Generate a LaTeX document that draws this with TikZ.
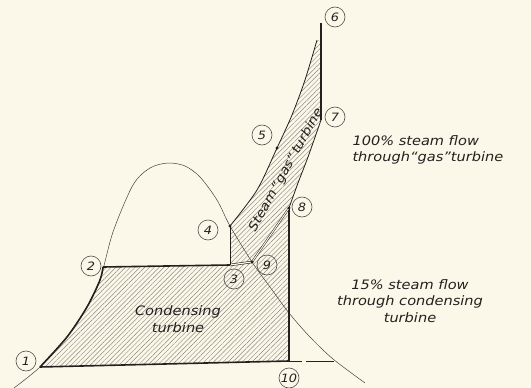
\documentclass[tikz,border=0pt]{standalone}
\usepackage{fontspec}
\usepackage{xcolor}
\usepackage{tikz}
\usetikzlibrary{patterns.meta, positioning}
\newfontfamily\lettering[FakeStretch=1.12]{DejaVu Sans}
\definecolor{paper}{RGB}{251,248,234}
\definecolor{ink}{RGB}{35,33,30}
\definecolor{hatch}{RGB}{140,137,127}

\begin{document}
\begin{tikzpicture}[x=1pt, y=-1pt,
  every node/.style={font=\lettering\itshape\fontsize{13}{16.5}\selectfont, text=ink},
  num/.style={draw=ink!80, circle, line width=0.6pt, minimum size=20pt, inner sep=0pt,
    font=\lettering\itshape\fontsize{11.5}{12}\selectfont},
  heavy/.style={ink, line width=1.6pt},
  edge/.style={ink, line width=0.8pt},
  dome/.style={ink!85, line width=0.5pt},
  dot/.style={circle, fill=ink, inner sep=0pt, minimum size=3.2pt},
  hatched/.style={pattern={Lines[angle=45, distance=3.4pt, line width=0.45pt]}, pattern color=hatch}]

\fill[paper] (0,0) rectangle (531,388);
\useasboundingbox (0,0) rectangle (531,388);

% state points
\coordinate (p1) at (40,367);
\coordinate (p2) at (103,267);
\coordinate (p3) at (230,265);
\coordinate (p4) at (230,226);
\coordinate (p5) at (277,148);
\coordinate (p6) at (321,23);
\coordinate (p7) at (321,120);
\coordinate (p8) at (289,208);
\coordinate (p9) at (252,262);
\coordinate (p10) at (289,361);
\coordinate (top) at (317,40);
\coordinate (dashend) at (334,361);

% hatched areas
\fill[hatched] plot[smooth] coordinates {(40,367) (67,337) (87,307) (100,280) (103,267)}
  -- (p3) -- (p9) -- (p8) -- (p10) -- cycle;
\fill[hatched] plot[smooth] coordinates {(230,226) (257,190) (277,148) (292,115) (305,80) (317,40)}
  -- (321,40) -- (p7) -- plot[smooth] coordinates {(321,120) (308,157) (298,183) (289,208)}
  -- (p9) -- (p3) -- cycle;

% saturation dome
\draw[dome] plot[smooth] coordinates {(14,388) (40,367) (67,337) (87,307) (100,280) (113,232)
  (133,185) (150,168) (168,163) (185,166) (200,177) (217,200) (230,226) (252,262) (270,287)
  (289,313) (310,337) (333,359) (365,383)};

% cycle lines
\draw[heavy] plot[smooth] coordinates {(40,367) (67,337) (87,307) (100,280) (103,267)};
\draw[heavy] (p1) -- (p10);
\draw[edge, dash pattern=on 13pt off 4pt on 40pt] (p10) -- (dashend);
\draw[heavy] (p10) -- (p8);
\draw[heavy] (p2) -- (p3);
\draw[ink, line width=0.6pt, double=paper, double distance=1.2pt] (p3) -- (p9);
\draw[ink, line width=0.5pt, double=paper, double distance=1pt] (p9) -- (p8);
\draw[edge] (p3) -- (p4);
\draw[edge] plot[smooth] coordinates {(230,226) (257,190) (277,148) (292,115) (305,80) (317,40)};
\draw[edge] plot[smooth] coordinates {(321,120) (308,157) (298,183) (289,208)};
\draw[heavy] (p6) -- (p7);

\foreach \p in {p4, p5, p8, p9}
  \node[dot] at (\p) {};

% point numbers
\node[num] (l1) at (26,361) {1};
\node[num] (l2) at (91,266) {2};
\node[num] (l3) at (234,279) {3};
\node[num] (l4) at (208,230) {4};
\node[num] (l5) at (262,135) {5};
\node[num] (l6) at (335,17) {6};
\node[num] (l7) at (335,117) {7};
\node[num] (l8) at (302,207) {8};
\node[num] (l9) at (267,265) {9};
\node[num] (l10) at (289,378) {10};

% texts
\node[rotate=61, inner sep=0pt, font=\lettering\itshape\fontsize{12.5}{14}\selectfont] (gas) at (286,170) {Steam\,“gas”\,turbine};
\node[align=center] (cond) at (178,319) {Condensing\\turbine};
\node[align=left, anchor=west] (full) at (349,150) {100\% steam flow\\through“gas”turbine};
\node[align=center] (part) at (410,301) {15\% steam flow\\through condensing\\turbine};
\end{tikzpicture}
\end{document}
